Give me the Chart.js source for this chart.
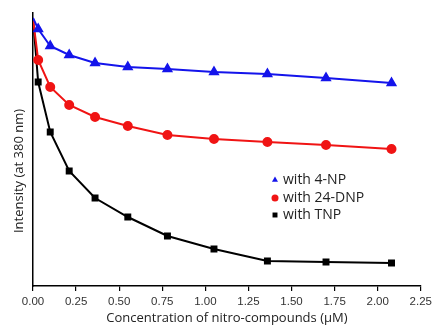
<!DOCTYPE html>
<html>
<head>
<meta charset="utf-8">
<script src="https://cdn.jsdelivr.net/npm/chart.js@4/dist/chart.umd.min.js"></script>
<style>
  html, body { margin: 0; padding: 0; background: #fff; }
  #wrap { width: 436px; height: 330px; }
</style>
</head>
<body>
<div id="wrap"><canvas id="chart" width="436" height="330"></canvas></div>
<script>
// Data (intensity in arbitrary units)
const conc = [0, 0.03, 0.10, 0.21, 0.36, 0.55, 0.78, 1.05, 1.36, 1.70, 2.08];
const np4 = [268, 257, 240, 231, 223, 219, 217, 214, 212, 208, 203];
const dnp24 = [267, 226, 199, 181, 169, 160, 151, 147, 144, 141, 137];
const tnp = [268, 204, 154, 115, 88, 69, 50, 37, 25, 24, 23];
const legendLabels = ['with 4-NP', 'with 24-DNP', 'with TNP'];

const pts = arr => arr.map((v, i) => ({x: conc[i], y: v}));
const radii = n => conc.map((c, i) => i === 0 ? 0 : n);

const series = [
    {label: legendLabels[0], data: pts(np4), color: 'rgb(20, 20, 235)', style: 'triangle', r: 4.5},
    {label: legendLabels[1], data: pts(dnp24), color: 'rgb(240, 20, 20)', style: 'circle', r: 4},
    {label: legendLabels[2], data: pts(tnp), color: 'rgb(0, 0, 0)', style: 'rect', r: 3.5}
];

// legend and y title drawn inside the plot like in the original figure
const overlay = {
    id: 'overlay',
    afterDraw(chart) {
        const ctx = chart.ctx;
        ctx.save();
        ctx.fillStyle = '#222';
        ctx.font = '13px "Open Sans"';
        ctx.textBaseline = 'middle';
        ctx.translate(19, 171);
        ctx.rotate(-Math.PI / 2);
        ctx.textAlign = 'center';
        ctx.fillText('Intensity (at 380 nm)', 0, 0);
        ctx.restore();

        ctx.save();
        const ys = [180, 198, 215];
        series.forEach((s, i) => {
            ctx.fillStyle = s.color;
            ctx.strokeStyle = s.color;
            Chart.helpers.drawPoint(ctx, {pointStyle: s.style, radius: 3.5, borderWidth: 0}, 275, ys[i]);
            ctx.fillStyle = '#222';
            ctx.font = '14px "Open Sans"';
            ctx.textBaseline = 'middle';
            ctx.fillText(s.label, 283, ys[i]);
        });
        ctx.restore();
    }
};

const config = {
    type: 'line',
    data: {
        datasets: series.map(s => ({
            label: s.label,
            data: s.data,
            borderColor: s.color,
            backgroundColor: s.color,
            borderWidth: 2,
            pointStyle: s.style,
            pointRadius: radii(s.r),
            tension: 0
        }))
    },
    options: {
        responsive: false,
        animation: false,
        layout: {padding: {top: 13, right: 14, left: 0, bottom: 0}},
        plugins: {
            legend: {display: false},
            tooltip: {enabled: false}
        },
        scales: {
            x: {
                type: 'linear',
                min: 0,
                max: 2.25,
                ticks: {
                    stepSize: 0.25,
                    color: '#333',
                    font: {family: 'Liberation Sans', size: 11.5},
                    padding: 4,
                    callback: v => v.toFixed(2)
                },
                grid: {drawOnChartArea: false, drawTicks: true, tickLength: 5, color: '#000', lineWidth: 1.2},
                border: {color: '#000', width: 1.5},
                title: {
                    display: true,
                    text: 'Concentration of nitro-compounds (μM)',
                    color: '#222',
                    font: {family: 'Open Sans', size: 13},
                    padding: {top: 5}
                },
                afterFit(scale) { scale.height = 44; }
            },
            y: {
                min: 0,
                max: 273,
                ticks: {display: false},
                grid: {display: false},
                border: {color: '#000', width: 1.5},
                afterFit(scale) { scale.width = 33; }
            }
        }
    },
    plugins: [overlay]
};

const chart = new Chart(document.getElementById('chart'), config);
</script>
</body>
</html>
